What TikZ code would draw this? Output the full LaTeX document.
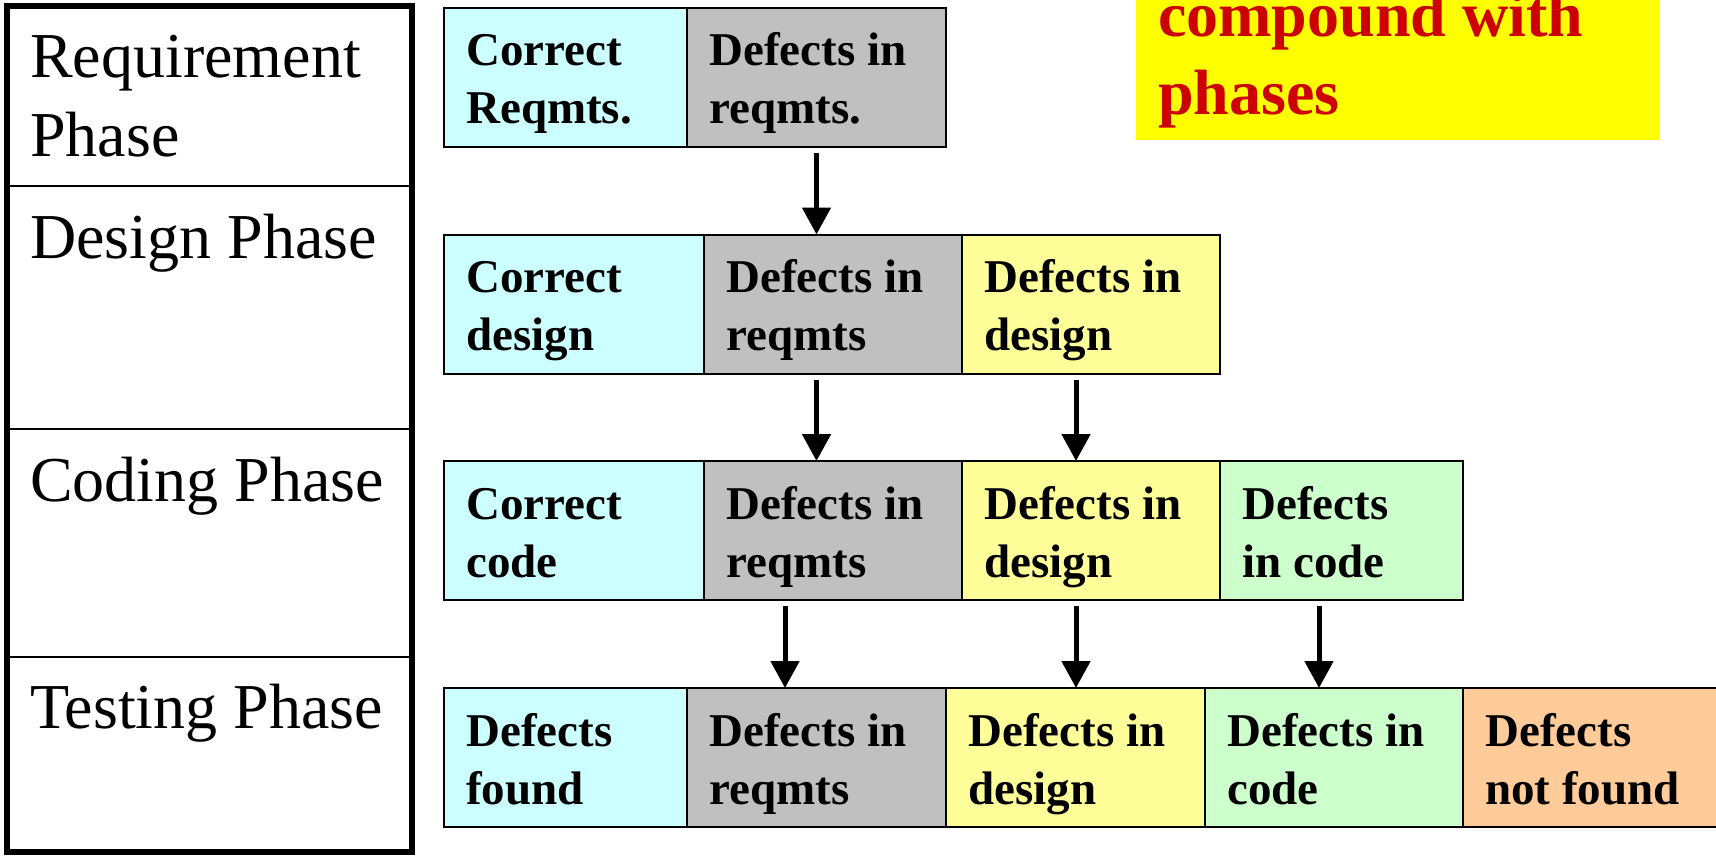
\documentclass[tikz,border=0pt]{standalone}
\usepackage{fontspec}
\setmainfont{Liberation Serif}
\usetikzlibrary{arrows.meta,calc}

\definecolor{cellcyan}{HTML}{CCFFFF}
\definecolor{cellgray}{HTML}{C0C0C0}
\definecolor{cellyellow}{HTML}{FFFF99}
\definecolor{cellgreen}{HTML}{CCFFCC}
\definecolor{cellorange}{HTML}{FFCC99}
\definecolor{notebg}{HTML}{FFFF00}
\definecolor{notered}{HTML}{CC0000}

% one coloured cell of a phase row, with its two-line caption
% (the caption's base anchor sits on its second line)
\newcommand\phasecell[7]{%
  \node[cellbox, fill=#5, minimum width=#4pt] (#1) at (#2,#3) {};
  \node[celltext] (#1-txt) at ([xshift=22pt,yshift=-116pt]#1.north west) {#6\\#7};
}

\tikzset{
  cellbox/.style={draw=black, line width=2pt, inner sep=0pt, outer sep=0pt,
    minimum height=139pt, anchor=north west},
  celltext/.style={anchor=base west, align=left, inner sep=0pt,
    font=\fontsize{47}{58}\selectfont\bfseries},
  phaselabel/.style={anchor=base west, align=left, inner sep=0pt,
    font=\fontsize{64}{79}\selectfont},
  flow/.style={line width=5pt, shorten <=6pt,
    -{Triangle[width=28pt,length=27pt]}},
}

\begin{document}
\begin{tikzpicture}[x=1pt,y=-1pt]
\useasboundingbox (0,0) rectangle (1716,856);
\clip (0,0) rectangle (1716,856);

% phase column on the left
\draw[line width=6pt] (6.5,6) rectangle (412,852);
\draw[line width=2.5pt] (6.5,186) -- (412,186);
\draw[line width=2.5pt] (6.5,429) -- (412,429);
\draw[line width=2.5pt] (6.5,657) -- (412,657);
\node[phaselabel] (reqph) at (30,157) {Requirement\\Phase};
\node[phaselabel] (desph) at (30,258) {Design Phase};
\node[phaselabel] (codph) at (30,501) {Coding Phase};
\node[phaselabel] (tesph) at (30,728) {Testing Phase};

% requirement phase
\phasecell{r1a}{444}{8}{243}{cellcyan}{Correct}{Reqmts.}
\phasecell{r1b}{687}{8}{259}{cellgray}{Defects in}{reqmts.}

% design phase
\phasecell{r2a}{444}{234.5}{260}{cellcyan}{Correct}{design}
\phasecell{r2b}{704}{234.5}{258}{cellgray}{Defects in}{reqmts}
\phasecell{r2c}{962}{234.5}{258}{cellyellow}{Defects in}{design}

% coding phase
\phasecell{r3a}{444}{461}{260}{cellcyan}{Correct}{code}
\phasecell{r3b}{704}{461}{258}{cellgray}{Defects in}{reqmts}
\phasecell{r3c}{962}{461}{258}{cellyellow}{Defects in}{design}
\phasecell{r3d}{1220}{461}{243}{cellgreen}{Defects}{in code}

% testing phase
\phasecell{r4a}{444}{688}{243}{cellcyan}{Defects}{found}
\phasecell{r4b}{687}{688}{259}{cellgray}{Defects in}{reqmts}
\phasecell{r4c}{946}{688}{259}{cellyellow}{Defects in}{design}
\phasecell{r4d}{1205}{688}{258}{cellgreen}{Defects in}{code}
\phasecell{r4e}{1463}{688}{280}{cellorange}{Defects}{not found}

% columns of the carry-over arrows
\coordinate (colA) at (816.5,0);
\coordinate (colB) at (1076,0);
\coordinate (colC) at (785,0);
\coordinate (colD) at (1319,0);

\draw[flow] (r1b.south -| colA) -- (r2b.north -| colA);
\draw[flow] (r2b.south -| colA) -- (r3b.north -| colA);
\draw[flow] (r2c.south -| colB) -- (r3c.north -| colB);
\draw[flow] (r3b.south -| colC) -- (r4b.north -| colC);
\draw[flow] (r3c.south -| colB) -- (r4c.north -| colB);
\draw[flow] (r3d.south -| colD) -- (r4d.north -| colD);

% note in the upper right corner
\fill[notebg] (1136,-2) rectangle (1660,140);
\node[anchor=base west, align=left, inner sep=0pt, text=notered,
  font=\fontsize{64}{78}\selectfont\bfseries] (note) at (1158,115)
  {compound with\\phases};
\end{tikzpicture}
\end{document}
